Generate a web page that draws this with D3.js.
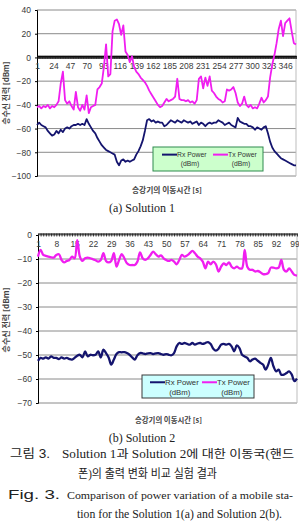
<!DOCTYPE html>
<html>
<head>
<meta charset="utf-8">
<script src="https://cdn.jsdelivr.net/npm/d3@7"></script>
<style>
    body { margin: 0; background: #fff; }
    svg { display: block; }
</style>
</head>
<body>
<svg id="drawing_region"></svg>
<script>
// ---- (a) Solution 1 : sampled every 3 s ----
const timeA = d3.range(1, 362, 3);
const rxA = [
    -57, -55, -57, -58, -59, -62, -64, -66, -65, -62, -64, -61, -63, -60, -59, -60, -58, -57, -57, -56,
    -57, -56, -57, -52, -56, -59, -62, -64, -68, -71, -74, -76, -78, -79, -80, -81, -82, -88, -91, -87,
    -86, -88, -87, -88, -87, -86, -82, -79, -75, -70, -62, -53, -52, -54, -53, -55, -54, -55, -55, -58,
    -57, -55, -53, -54, -55, -53, -54, -55, -53, -54, -55, -54, -56, -55, -54, -57, -55, -56, -58, -56,
    -55, -56, -55, -55, -53, -54, -55, -57, -56, -55, -57, -58, -59, -51, -54, -55, -56, -56, -58, -58,
    -59, -61, -59, -60, -61, -59, -58, -64, -71, -76, -79, -81, -83, -85, -86, -87, -88, -89, -90, -91,
    -91
];
const txA = [
    -42, -41, -43, -41, -42, -40, -43, -41, -42, -40, -37, -22, -12, -36, -39, -37, -41, -44, -29, -42,
    -45, -40, -44, -32, -47, -42, -41, -40, -27, -25, -22, -8, 11, -16, -14, 22, 31, 32, 28, 19,
    27, 5, 2, -4, 1, -8, -12, -14, -17, -19, -21, -24, -28, -31, -34, -37, -40, -42, -41, -38,
    -35, -37, -36, -35, -33, -18, -35, -36, -36, -37, -36, -38, -37, -39, -36, -18, -16, -26, -17, -24,
    -16, -28, -30, -33, -35, -36, -38, -37, -27, -28, -27, -25, -30, -38, -41, -39, -33, -40, -42, -40,
    -43, -42, -43, -39, -34, -38, -36, -33, -17, -6, 2, 12, 24, 31, 18, 29, 31, 33, 22, 12,
    11
];
const tickA = [1, 24, 47, 70, 93, 116, 139, 162, 185, 208, 231, 254, 277, 300, 323, 346];
const yTickA = [40, 20, 0, -20, -40, -60, -80, -100];

// ---- (b) Solution 2 ----
const timeB = d3.range(1, 101);
const rxB = [
    -52.4, -51.2, -51.5, -51.0, -51.5, -50.6, -51.2, -51.2, -51.7, -51.0,
    -51.5, -51.2, -51.7, -51.9, -51.2, -50.3, -49.9, -51.0, -48.5, -50.6,
    -49.9, -50.1, -49.9, -48.5, -51.0, -47.8, -49.2, -51.0, -54.0, -51.9,
    -49.6, -48.8, -48.9, -48.8, -49.2, -49.9, -51.0, -51.9, -50.1, -49.2,
    -49.3, -49.6, -49.3, -49.2, -49.6, -49.3, -49.2, -49.6, -49.9, -49.6,
    -49.9, -50.1, -49.2, -46.4, -45.0, -45.4, -45.0, -45.4, -45.7, -45.0,
    -45.7, -45.2, -45.0, -45.4, -45.0, -44.6, -45.4, -47.4, -48.2, -47.4,
    -45.7, -45.4, -45.7, -45.4, -46.4, -48.5, -46.0, -47.1, -49.9, -50.6,
    -51.2, -52.6, -51.9, -51.5, -52.4, -53.3, -54.0, -56.1, -54.0, -51.2,
    -54.7, -56.8, -56.1, -58.2, -58.2, -57.5, -56.8, -58.2, -60.9, -59.8
];
const txB = [
    -9.0, -6.2, -8.3, -8.7, -9.0, -9.3, -9.4, -8.3, -8.0, -10.4,
    -11.4, -10.8, -10.4, -9.0, -9.7, -2.1, -9.0, -10.8, -9.7, -9.4,
    -9.7, -10.1, -10.5, -11.1, -10.4, -7.6, -10.8, -11.4, -10.8, -7.6,
    -13.2, -10.4, -8.0, -9.7, -11.8, -12.5, -12.5, -12.5, -11.1, -7.2,
    -9.7, -10.4, -9.7, -8.3, -6.9, -8.0, -9.0, -8.5, -9.7, -10.4,
    -10.8, -10.4, -11.1, -12.2, -10.4, -8.3, -9.0, -8.5, -7.6, -6.6,
    -7.6, -9.0, -9.7, -11.1, -13.9, -11.1, -12.2, -11.1, -12.2, -15.2,
    -13.2, -11.8, -12.5, -11.4, -13.2, -13.9, -13.2, -13.9, -13.9, -6.2,
    -13.2, -14.5, -14.5, -15.2, -15.0, -15.5, -16.3, -16.3, -15.9, -13.6,
    -13.6, -13.9, -13.6, -10.4, -14.5, -15.2, -13.9, -15.2, -16.6, -16.9
];
const tickB = [1, 8, 15, 22, 29, 36, 43, 50, 57, 64, 71, 78, 85, 92, 99];
const yTickB = [0, -10, -20, -30, -40, -50, -60, -70];

const yTitle = '송수신 전력 [dBm]';
const xTitle = '승강기의 이동시간 [s]';
const seriesNames = ['Rx Power', 'Tx Power'];
const seriesColors = ['#14146e', '#f01ef0'];

class PowerChart {

    constructor( config, time, rx, tx ) {
        this.config = config;
        this.time = time;
        this.rx = rx;
        this.tx = tx;
        this.init();
    }

    init() {
        let self = this;
        let c = self.config;

        self.chart = c.svg.append('g');

        self.xscale = d3.scaleLinear()
            .domain( c.xdomain )
            .range( [c.left, c.right] );

        self.yscale = d3.scaleLinear()
            .domain( c.ydomain )
            .range( [c.bottom, c.top] );
    }

    render() {
        let self = this;
        let c = self.config;
        const y0 = self.yscale(0);

        // gridlines
        self.chart.selectAll('.grid')
            .data( c.yticks )
            .enter()
            .append('line')
            .attr('x1', c.left)
            .attr('x2', c.right)
            .attr('y1', d => self.yscale(d))
            .attr('y2', d => self.yscale(d))
            .attr('stroke', '#8a8a8a')
            .attr('stroke-width', 1);

        self.chart.append('line')
            .attr('x1', c.right).attr('x2', c.right)
            .attr('y1', c.top).attr('y2', c.bottom)
            .attr('stroke', '#bdbdbd');

        // value axis
        const yaxis = d3.axisLeft( self.yscale )
            .tickValues( c.yticks )
            .tickSize(2)
            .tickPadding(4)
            .tickFormat( d3.format('d') );

        const yg = self.chart.append('g')
            .attr('transform', `translate(${c.left}, 0)`)
            .call( yaxis );
        yg.select('.domain').attr('stroke', '#000');
        yg.selectAll('text')
            .attr('font-family', 'Liberation Sans, Arial, sans-serif')
            .attr('font-size', c.tickFont)
            .attr('fill', '#3a3a3a');

        // category axis crossing at 0 (a tick on every sample time)
        const xticks = d3.axisBottom( self.xscale )
            .tickValues( d3.range(c.xdomain[0], c.xdomain[1] + 1) )
            .tickSize(3)
            .tickSizeOuter(0)
            .tickFormat('');

        const xg = self.chart.append('g')
            .attr('transform', `translate(0, ${y0 - 1.5})`)
            .call( xticks );
        xg.select('.domain').attr('stroke', '#000').attr('stroke-width', 1.2);
        xg.selectAll('.tick line').attr('stroke', '#111').attr('stroke-width', 0.8);

        const xlabels = d3.axisBottom( self.xscale )
            .tickValues( c.xticks )
            .tickSize(0)
            .tickPadding(6);

        const xl = self.chart.append('g')
            .attr('transform', `translate(0, ${y0})`)
            .call( xlabels );
        xl.select('.domain').remove();
        xl.selectAll('text')
            .attr('font-family', 'Liberation Sans, Arial, sans-serif')
            .attr('font-size', c.tickFont)
            .attr('fill', '#3a3a3a');

        // series
        const line = d3.line()
            .x( (d, i) => self.xscale( self.time[i] ) )
            .y( d => self.yscale( d ) )
            .curve( c.smooth ? d3.curveCatmullRom : d3.curveLinear );

        [self.rx, self.tx].forEach( (s, i) => {
            self.chart.append('path')
                .attr('d', line(s))
                .attr('fill', 'none')
                .attr('stroke', seriesColors[i])
                .attr('stroke-width', c.lineWidth)
                .attr('stroke-linejoin', 'round');
        });

        // legend
        const lg = c.legend;
        const leg = self.chart.append('g')
            .attr('transform', `translate(${lg.x}, ${lg.y})`);
        leg.append('rect')
            .attr('width', lg.w)
            .attr('height', lg.h)
            .attr('fill', lg.fill)
            .attr('stroke', lg.stroke)
            .attr('stroke-width', 1);

        seriesNames.forEach( (name, i) => {
            const g = leg.append('g')
                .attr('transform', `translate(${lg.itemX[i]}, 0)`);
            g.append('line')
                .attr('x1', 0).attr('x2', lg.sample)
                .attr('y1', lg.row1 - lg.font * 0.35).attr('y2', lg.row1 - lg.font * 0.35)
                .attr('stroke', seriesColors[i])
                .attr('stroke-width', 2);
            g.append('text')
                .attr('x', lg.sample)
                .attr('y', lg.row1)
                .attr('font-family', 'Liberation Sans, Arial, sans-serif')
                .attr('font-size', lg.font)
                .attr('fill', '#333')
                .text( name );
            g.append('text')
                .attr('x', lg.sample + lg.font * 1.9)
                .attr('y', lg.row2)
                .attr('text-anchor', 'middle')
                .attr('font-family', 'Liberation Sans, Arial, sans-serif')
                .attr('font-size', lg.font)
                .attr('fill', '#333')
                .text('(dBm)');
        });

        // titles
        c.svg.append('text')
            .attr('transform', `translate(${c.ytitle[0]}, ${c.ytitle[1]}) rotate(-90)`)
            .attr('text-anchor', 'middle')
            .attr('font-family', 'Noto Sans CJK KR, sans-serif')
            .attr('font-size', 7.5)
            .attr('font-weight', 'bold')
            .attr('fill', '#444')
            .attr('textLength', c.ytitle[2])
            .attr('lengthAdjust', 'spacingAndGlyphs')
            .text( yTitle );

        c.svg.append('text')
            .attr('x', c.xtitle[0])
            .attr('y', c.xtitle[1])
            .attr('font-family', 'Noto Sans CJK KR, sans-serif')
            .attr('font-size', 7.5)
            .attr('font-weight', 'bold')
            .attr('fill', '#444')
            .attr('textLength', c.xtitle[2])
            .attr('lengthAdjust', 'spacingAndGlyphs')
            .text( xTitle );

        c.svg.append('text')
            .attr('x', c.caption[0])
            .attr('y', c.caption[1])
            .attr('text-anchor', 'middle')
            .attr('font-family', 'Liberation Serif, Times New Roman, serif')
            .attr('font-size', 12)
            .attr('fill', '#222')
            .text( c.caption[2] );
    }
}

const svg = d3.select('#drawing_region')
    .attr('width', 299)
    .attr('height', 522);

svg.append('rect').attr('width', 299).attr('height', 522).attr('fill', '#fff');

const chartA = new PowerChart({
    svg: svg,
    left: 37, right: 296, top: 10, bottom: 176,
    xdomain: [1, 361], ydomain: [-100, 40],
    xticks: tickA, yticks: yTickA,
    smooth: false, lineWidth: 1.8, tickFont: 8.5,
    legend: { x: 153, y: 147, w: 110, h: 24, fill: '#ccffcc', stroke: '#2f8a4f',
              itemX: [9, 60], sample: 15, row1: 10, row2: 19, font: 6.8 },
    ytitle: [9, 93, 63],
    xtitle: [132, 193, 70],
    caption: [142, 212, '(a)  Solution  1']
}, timeA, rxA, txA);
chartA.render();

const chartB = new PowerChart({
    svg: svg,
    left: 38, right: 297, top: 235, bottom: 403,
    xdomain: [1, 100], ydomain: [-70, 0],
    xticks: tickB, yticks: yTickB,
    smooth: true, lineWidth: 2.3, tickFont: 8.5,
    legend: { x: 142, y: 375, w: 112, h: 23, fill: '#ccffff', stroke: '#3a3a3a',
              itemX: [8, 60], sample: 15, row1: 10, row2: 20, font: 7.8 },
    ytitle: [9, 320, 65],
    xtitle: [135, 423, 67],
    caption: [142, 442, '(b)  Solution  2']
}, timeB, rxB, txB);
chartB.render();

// figure caption
const capLines = [
    { head: '그림 3.', hx: 10, hw: 40, text: 'Solution 1과 Solution 2에 대한  이동국(핸드', x: 62, w: 232, y: 458, size: 11.5 },
    { head: '', hx: 0, hw: 0, text: '폰)의 출력 변화 비교 실험 결과', x: 78, w: 139, y: 478, size: 12 },
    { head: 'Fig. 3.', hx: 8, hw: 52, text: 'Comparison of power variation of a mobile sta-', x: 67, w: 226, y: 499, size: 11 },
    { head: '', hx: 0, hw: 0, text: 'tion for the Solution 1(a) and Solution 2(b).', x: 77, w: 205, y: 518, size: 11.5 }
];

capLines.forEach( d => {
    if (d.head) {
        svg.append('text')
            .attr('x', d.hx).attr('y', d.y)
            .attr('font-family', 'Liberation Sans, Noto Sans CJK KR, sans-serif')
            .attr('font-size', 12.5)
            .attr('fill', '#222')
            .attr('textLength', d.hw)
            .attr('lengthAdjust', 'spacingAndGlyphs')
            .text( d.head );
    }
    svg.append('text')
        .attr('x', d.x).attr('y', d.y)
        .attr('font-family', 'Liberation Serif, Noto Sans CJK KR, serif')
        .attr('font-size', d.size)
        .attr('fill', '#222')
        .attr('textLength', d.w)
        .attr('lengthAdjust', 'spacingAndGlyphs')
        .text( d.text );
});
</script>
</body>
</html>
